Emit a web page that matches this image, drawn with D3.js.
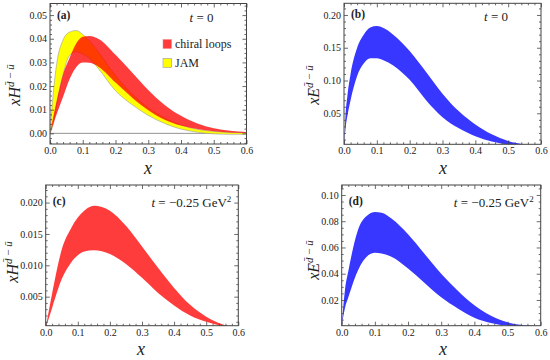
<!DOCTYPE html>
<html>
<head>
<meta charset="utf-8">
<script src="https://cdn.jsdelivr.net/npm/d3@7"></script>
<style>
  body { margin: 0; background: #fff; }
  text { font-family: "Liberation Serif", "Times New Roman", serif; fill: #222; }
</style>
</head>
<body>
<div id="chart"></div>
<script>
/* values */

// (a) t = 0, xH
const xsA = [0, 0.01, 0.02, 0.04, 0.06, 0.08, 0.10, 0.12, 0.15, 0.20, 0.25, 0.30, 0.35, 0.40, 0.45, 0.50, 0.55, 0.60]
const chiralHiA = [0, 0.007, 0.0135, 0.025, 0.032, 0.038, 0.0408, 0.0412, 0.0398, 0.0332, 0.0258, 0.0183, 0.0120, 0.0074, 0.0042, 0.0022, 0.0011, 0.0006]
const chiralLoA = [0, 0.004, 0.008, 0.0155, 0.023, 0.028, 0.0300, 0.0298, 0.0280, 0.0215, 0.0152, 0.0098, 0.0058, 0.0033, 0.0018, 0.0009, 0.0004, 0.0002]
const jamHiA = [0, 0.017, 0.029, 0.0395, 0.0428, 0.0435, 0.0418, 0.0392, 0.0340, 0.0245, 0.0168, 0.0108, 0.0065, 0.0035, 0.0017, 0.0008, 0.0004, 0.0002]
const jamLoA = [0, 0.004, 0.012, 0.025, 0.033, 0.0345, 0.0335, 0.0318, 0.0270, 0.0180, 0.0122, 0.0076, 0.0042, 0.0018, 0.0005, -0.0002, -0.0004, -0.0004]

// (b) t = 0, xE
const xsB = [0, 0.005, 0.01, 0.02, 0.04, 0.06, 0.08, 0.10, 0.12, 0.15, 0.20, 0.25, 0.30, 0.35, 0.40, 0.45, 0.50, 0.55, 0.60]
const hiB = [0, 0.05, 0.075, 0.11, 0.150, 0.170, 0.181, 0.183, 0.180, 0.170, 0.145, 0.113, 0.080, 0.053, 0.033, 0.018, 0.0078, 0.0025, 0.0008]
const loB = [0, 0.028, 0.045, 0.07, 0.107, 0.126, 0.134, 0.134, 0.131, 0.123, 0.101, 0.070, 0.044, 0.027, 0.015, 0.007, 0.0022, 0.0005, 0]

// (c) t = -0.25, xH
const xsC = [0, 0.02, 0.05, 0.08, 0.10, 0.12, 0.15, 0.20, 0.25, 0.30, 0.35, 0.40, 0.45, 0.50, 0.55, 0.60]
const hiC = [0, 0.0055, 0.0125, 0.0160, 0.0176, 0.0187, 0.0195, 0.0187, 0.0163, 0.0130, 0.0096, 0.0064, 0.0037, 0.0018, 0.0006, 0]
const loC = [0, 0.0032, 0.0078, 0.0105, 0.0116, 0.0122, 0.0124, 0.0118, 0.0102, 0.0080, 0.0056, 0.0036, 0.0020, 0.0010, 0.0003, 0]

// (d) t = -0.25, xE
const xsD = [0, 0.01, 0.02, 0.05, 0.08, 0.10, 0.12, 0.15, 0.20, 0.25, 0.30, 0.35, 0.40, 0.45, 0.50, 0.55, 0.60]
const hiD = [0, 0.028, 0.042, 0.074, 0.085, 0.087, 0.0865, 0.082, 0.070, 0.055, 0.040, 0.027, 0.016, 0.008, 0.003, 0.0008, 0.0002]
const loD = [0, 0.014, 0.022, 0.043, 0.054, 0.056, 0.0555, 0.053, 0.044, 0.033, 0.022, 0.0135, 0.0065, 0.0025, 0.0005, 0, 0]

// tick labels
const xTicks = [0, 0.1, 0.2, 0.3, 0.4, 0.5, 0.6]
const yTicksA = [0, 0.01, 0.02, 0.03, 0.04, 0.05]
const yTicksB = [0.05, 0.10, 0.15, 0.20]
const yTicksC = [0.005, 0.010, 0.015, 0.020]
const yTicksD = [0.02, 0.04, 0.06, 0.08, 0.10]

const RED = "rgb(255,0,0)"
const RED_OP = 0.765
const YELLOW = "#ffff00"
const BLUE = "#3737ff"
const SERIF = '"Liberation Serif", "Times New Roman", serif'

const svg = d3.select("#chart").append("svg")
  .attr("width", 550)
  .attr("height", 360)

svg.append("rect").attr("width", 550).attr("height", 360).attr("fill", "#fff")

function rows(xs, hi, lo) {
  return xs.map((x, i) => ({ x: x, hi: hi[i], lo: lo[i] }))
}

// draw one framed panel, returns scales and group
function panel(id, box, yDom, yTicks, yMinorStep, yFmt) {
  const w = box.right - box.left
  const h = box.bottom - box.top
  const g = svg.append("g").attr("transform", `translate(${box.left}, ${box.top})`)

  const x = d3.scaleLinear().domain([0, 0.6]).range([0, w])
  const y = d3.scaleLinear().domain(yDom).range([h, 0])

  g.append("clipPath").attr("id", "clip-" + id)
    .append("rect").attr("width", w).attr("height", h)

  const plot = g.append("g").attr("clip-path", `url(#clip-${id})`)

  const xMinor = d3.range(0, 0.6001, 0.02).filter(v => Math.abs(v * 10 - Math.round(v * 10)) > 1e-6)
  const yMinor = d3.range(Math.ceil(yDom[0] / yMinorStep) * yMinorStep, yDom[1], yMinorStep)
    .filter(v => !yTicks.concat([0]).some(t => Math.abs(t - v) < yMinorStep / 10))

  const axes = g.append("g").attr("class", "axes")

  // bottom
  axes.append("g").attr("transform", `translate(0, ${h})`)
    .call(d3.axisBottom(x).tickValues(xTicks).tickSize(-4).tickPadding(3).tickFormat(d3.format(".1f")))
  axes.append("g").attr("transform", `translate(0, ${h})`)
    .call(d3.axisBottom(x).tickValues(xMinor).tickSize(-2).tickFormat(""))
  // top
  axes.append("g")
    .call(d3.axisTop(x).tickValues(xTicks).tickSize(-4).tickFormat(""))
  axes.append("g")
    .call(d3.axisTop(x).tickValues(xMinor).tickSize(-2).tickFormat(""))
  // left
  axes.append("g")
    .call(d3.axisLeft(y).tickValues(yTicks).tickSize(-4).tickPadding(3).tickFormat(d3.format(yFmt)))
  axes.append("g")
    .call(d3.axisLeft(y).tickValues(yMinor).tickSize(-2).tickFormat(""))
  // right
  axes.append("g").attr("transform", `translate(${w}, 0)`)
    .call(d3.axisRight(y).tickValues(yTicks).tickSize(-4).tickFormat(""))
  axes.append("g").attr("transform", `translate(${w}, 0)`)
    .call(d3.axisRight(y).tickValues(yMinor).tickSize(-2).tickFormat(""))

  axes.selectAll("g").attr("font-family", SERIF).attr("font-size", 10)
  axes.selectAll(".domain").remove()
  axes.selectAll(".tick line").attr("stroke", "#444").attr("stroke-width", 0.8)
  axes.selectAll(".tick text")
    .style("font-family", SERIF)
    .style("font-size", "10px")
    .attr("fill", "#222")

  g.append("rect")
    .attr("width", w).attr("height", h)
    .attr("fill", "none").attr("stroke", "#444").attr("stroke-width", 1)

  return { g, plot, x, y, w, h }
}

function band(p, data, fill, opacity, stroke) {
  const area = d3.area()
    .curve(d3.curveMonotoneX)
    .x(d => p.x(d.x))
    .y0(d => p.y(d.lo))
    .y1(d => p.y(d.hi))
  p.plot.append("path")
    .datum(data)
    .attr("d", area)
    .attr("fill", fill)
    .attr("fill-opacity", opacity)
    .attr("stroke", stroke || "none")
    .attr("stroke-width", 0.6)
}

function yLabel(bx, cy, letter) {
  const t = svg.append("text")
    .attr("transform", `translate(${bx}, ${cy}) rotate(-90)`)
    .attr("text-anchor", "middle")
    .style("font-size", "16px")
  t.append("tspan").style("font-style", "italic").text("x" + letter)
  t.append("tspan").attr("dy", -6).style("font-size", "11px")
    .html('<tspan font-style="italic">d\u0304</tspan> \u2212 <tspan font-style="italic">u\u0304</tspan>')
}

function xLabel(cx, by) {
  svg.append("text")
    .attr("x", cx).attr("y", by)
    .attr("text-anchor", "middle")
    .style("font-size", "18px")
    .style("font-style", "italic")
    .text("x")
}

function tag(p, lbl, withGeV) {
  p.g.append("text")
    .attr("x", 7).attr("y", withGeV ? 20 : 15)
    .style("font-size", "11.5px")
    .style("font-weight", "bold")
    .text(lbl)
  const t = p.g.append("text")
    .attr("x", p.w - (withGeV ? 7 : 33)).attr("y", withGeV ? 21.5 : 18)
    .attr("text-anchor", "end")
    .style("font-size", "13px")
  t.append("tspan").style("font-style", "italic").text("t")
  if (withGeV) {
    t.append("tspan").text(" = \u22120.25 GeV")
    t.append("tspan").attr("dy", -5).style("font-size", "9px").text("2")
  } else {
    t.append("tspan").text(" = 0")
  }
}

/* (a) */
const pA = panel("a", { left: 50, right: 246.5, top: 3.5, bottom: 144 }, [-0.0045, 0.0549], yTicksA, 0.002, ".2f")
pA.plot.append("line")
  .attr("x1", 0).attr("x2", pA.w)
  .attr("y1", pA.y(0)).attr("y2", pA.y(0))
  .attr("stroke", "#777").attr("stroke-width", 0.8)
band(pA, rows(xsA, jamHiA, jamLoA), YELLOW, 1, "#9a9a9a")
band(pA, rows(xsA, chiralHiA, chiralLoA), RED, RED_OP)
tag(pA, "(a)", false)

// legend
const leg = pA.g.append("g").attr("transform", "translate(113, 36)")
leg.append("rect").attr("x", 0).attr("y", 0).attr("width", 8.5).attr("height", 9)
  .attr("fill", RED).attr("fill-opacity", RED_OP).attr("stroke", "#e88").attr("stroke-width", 0.5)
leg.append("text").attr("x", 12).attr("y", 8.5).style("font-size", "12px").text("chiral loops")
leg.append("rect").attr("x", 0).attr("y", 19).attr("width", 8.5).attr("height", 9)
  .attr("fill", YELLOW).attr("stroke", "#999").attr("stroke-width", 0.6)
leg.append("text").attr("x", 12).attr("y", 27.5).style("font-size", "12px").text("JAM")

yLabel(20, 85, "H")
xLabel(148, 174)

/* (b) */
const pB = panel("b", { left: 344, right: 541, top: 3.3, bottom: 144.3 }, [0.0027, 0.2178], yTicksB, 0.01, ".2f")
band(pB, rows(xsB, hiB, loB), BLUE, 1)
tag(pB, "(b)", false)
yLabel(319, 85, "E")
xLabel(443, 174)

/* (c) */
const pC = panel("c", { left: 45.7, right: 238.3, top: 185, bottom: 325.7 }, [0.00037, 0.0228], yTicksC, 0.001, ".3f")
band(pC, rows(xsC, hiC, loC), RED, RED_OP)
tag(pC, "(c)", true)
yLabel(18, 262, "H")
xLabel(141, 355)

/* (d) */
const pD = panel("d", { left: 341.7, right: 540.7, top: 185, bottom: 325.7 }, [0.0004, 0.1076], yTicksD, 0.005, ".2f")
band(pD, rows(xsD, hiD, loD), BLUE, 1)
tag(pD, "(d)", true)
yLabel(319, 260, "E")
xLabel(443, 355)
</script>
</body>
</html>
